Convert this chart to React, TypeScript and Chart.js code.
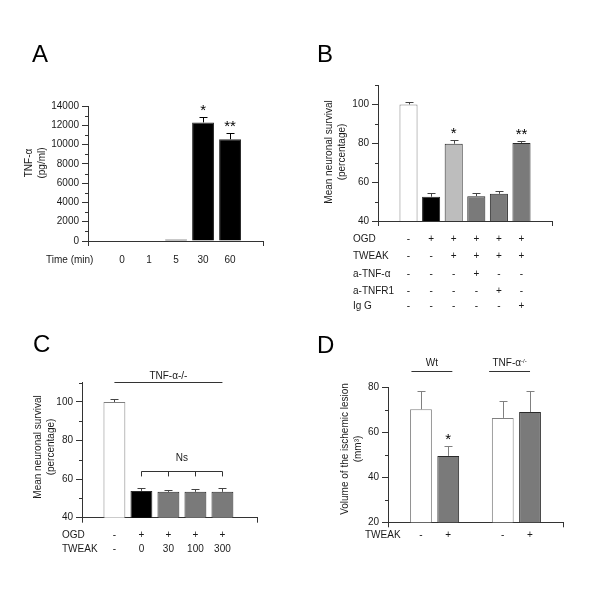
import React, { useEffect, useRef } from 'react';
import { Chart, registerables } from 'chart.js';

Chart.register(...registerables);

const FONT = '"Liberation Sans", Arial, Helvetica, sans-serif';
const AXIS = '#333333';
const TEXT = '#1a1a1a';

// ---------- Panel A: TNF-α release ----------
const timeLabelsA = ['0', '1', '5', '30', '60'];
const tnfA = [0, 0, 150, 12300, 10550];
const tnfErrA = [0, 0, 0, 550, 620];
const starsA = ['', '', '', '*', '**'];
const yMajorA = [0, 2000, 4000, 6000, 8000, 10000, 12000, 14000];
const yMinorA = [1000, 3000, 5000, 7000, 9000, 11000, 13000];
const coloursA = ['#000000', '#000000', '#000000', '#000000', '#000000'];

// ---------- Panel B: neuronal survival ----------
const survivalB = [100, 52.5, 79.8, 52.8, 54, 80.2];
const survivalErrB = [1.2, 1.7, 2.0, 1.5, 1.3, 1.2];
const starsB = ['', '', '*', '', '', '**'];
const ogdB = ['-', '+', '+', '+', '+', '+'];
const tweakB = ['-', '-', '+', '+', '+', '+'];
const antiTnfB = ['-', '-', '-', '+', '-', '-'];
const antiTnfr1B = ['-', '-', '-', '-', '+', '-'];
const iggB = ['-', '-', '-', '-', '-', '+'];
const coloursB = ['#ffffff', '#000000', '#bdbdbd', '#7a7a7a', '#7a7a7a', '#7a7a7a'];
const yMajorSurvival = [40, 60, 80, 100];
const yMinorSurvival = [50, 70, 90, 110];

// ---------- Panel C: TNF-α-/- survival ----------
const survivalC = [100, 53.9, 53.4, 53.4, 53.4];
const survivalErrC = [1.5, 1.7, 1.0, 1.5, 2.0];
const ogdC = ['-', '+', '+', '+', '+'];
const tweakC = ['-', '0', '30', '100', '300'];
const coloursC = ['#ffffff', '#000000', '#7a7a7a', '#7a7a7a', '#7a7a7a'];

// ---------- Panel D: lesion volume ----------
const groupPosD = [0, 1, 3, 4];
const lesionD = [70.2, 49.5, 66.4, 69.0];
const lesionErrD = [8.2, 4.4, 7.5, 9.4];
const starsD = ['', '*', '', ''];
const tweakD = ['-', '+', '-', '+'];
const coloursD = ['#ffffff', '#7a7a7a', '#ffffff', '#7a7a7a'];
const yMajorD = [20, 40, 60, 80];
const yMinorD = [30, 50, 70];
const groupNamesD = ['Wt', 'TNF-α'];
const groupSupD = ['', '-/-'];
const groupSpanD = [[-0.35, 1.15], [2.5, 4.0]];

type Row = { name: string; cells: string[] };
type Spec = {
  box: { left: number; top: number; width: number; height: number };
  plot: { left: number; top: number; right: number; bottom: number };
  letter: { text: string; x: number; y: number };
  xs: number[];
  xMin: number;
  xMax: number;
  barPct: number;
  values: number[];
  errors: number[];
  colours: string[];
  errColour: string;
  stars: string[];
  yMin: number;
  yMax: number;
  yMajor: number[];
  yMinor: number[];
  yTitle: string[];
  yTitleX: number[];
  yTitleY: number;
  rows: Row[];
  rowNameX: number;
  rowYs: number[];
  extra?: (ctx: CanvasRenderingContext2D, chart: any, ox: number, oy: number) => void;
};

function buildConfig(p: Spec) {
  const ox = p.box.left;
  const oy = p.box.top;
  const data = p.xs.map((x, i) => ({ x, y: p.values[i] }));
  const borders = p.colours.map((c) => (c === '#ffffff' ? '#808080' : '#2a2a2a'));

  const decor = {
    id: 'panelDecor',
    afterDraw(chart: any) {
      const ctx: CanvasRenderingContext2D = chart.ctx;
      const ys = chart.scales.y;
      const area = chart.chartArea;
      const meta = chart.getDatasetMeta(0);
      ctx.save();

      // minor y ticks
      ctx.strokeStyle = AXIS;
      ctx.lineWidth = 1;
      p.yMinor.forEach((v) => {
        const y = Math.round(ys.getPixelForValue(v)) + 0.5;
        ctx.beginPath();
        ctx.moveTo(area.left - 3, y);
        ctx.lineTo(area.left, y);
        ctx.stroke();
      });

      // error bars (upper only) and significance stars
      p.values.forEach((v, i) => {
        const el = meta.data[i];
        if (!el) return;
        const x = Math.round(el.x) + 0.5;
        const yBar = ys.getPixelForValue(v);
        const yTop = Math.round(ys.getPixelForValue(v + p.errors[i])) + 0.5;
        if (p.errors[i] > 0) {
          ctx.strokeStyle = p.errColour;
          ctx.beginPath();
          ctx.moveTo(x, yBar);
          ctx.lineTo(x, yTop);
          ctx.moveTo(x - 4, yTop);
          ctx.lineTo(x + 4, yTop);
          ctx.stroke();
        }
        if (p.stars[i]) {
          ctx.fillStyle = '#000';
          ctx.font = `15px ${FONT}`;
          ctx.textAlign = 'center';
          ctx.textBaseline = 'alphabetic';
          ctx.fillText(p.stars[i], el.x, yTop - 3);
        }
      });

      // condition rows under the axis
      ctx.fillStyle = TEXT;
      ctx.font = `10px ${FONT}`;
      ctx.textBaseline = 'middle';
      p.rows.forEach((row, r) => {
        const y = p.rowYs[r] - oy;
        if (row.name) {
          ctx.textAlign = 'left';
          ctx.fillText(row.name, p.rowNameX - ox, y);
        }
        ctx.textAlign = 'center';
        row.cells.forEach((c, i) => {
          const el = meta.data[i];
          if (el) ctx.fillText(c, el.x, y);
        });
      });

      // rotated y title
      ctx.textAlign = 'center';
      p.yTitle.forEach((t, k) => {
        ctx.save();
        ctx.translate(p.yTitleX[k] - ox, p.yTitleY - oy);
        ctx.rotate(-Math.PI / 2);
        ctx.fillText(t, 0, 0);
        ctx.restore();
      });

      // panel letter
      ctx.font = `24px ${FONT}`;
      ctx.textAlign = 'left';
      ctx.textBaseline = 'alphabetic';
      ctx.fillStyle = '#000';
      ctx.fillText(p.letter.text, p.letter.x - ox, p.letter.y - oy);

      if (p.extra) p.extra(ctx, chart, ox, oy);
      ctx.restore();
    },
  };

  const yAxisWidth = p.plot.left - ox;

  return {
    type: 'bar' as const,
    data: {
      datasets: [
        {
          data,
          backgroundColor: p.colours,
          borderColor: borders,
          borderWidth: 1,
          barPercentage: p.barPct,
          categoryPercentage: 1,
        },
      ],
    },
    options: {
      animation: false as const,
      responsive: false,
      events: [],
      layout: {
        padding: {
          left: 0,
          top: p.plot.top - oy,
          right: ox + p.box.width - p.plot.right,
          bottom: oy + p.box.height - p.plot.bottom,
        },
      },
      plugins: {
        legend: { display: false },
        tooltip: { enabled: false },
        title: { display: false },
      },
      scales: {
        x: {
          type: 'linear' as const,
          offset: false,
          min: p.xMin,
          max: p.xMax,
          afterBuildTicks: (s: any) => {
            s.ticks = [{ value: p.xMin }, { value: p.xMax }];
          },
          afterFit: (s: any) => {
            s.height = 0;
          },
          ticks: { display: false },
          grid: { offset: false, drawOnChartArea: false, drawTicks: true, tickLength: 5, color: AXIS },
          border: { display: true, color: AXIS, width: 1 },
        },
        y: {
          type: 'linear' as const,
          min: p.yMin,
          max: p.yMax,
          afterBuildTicks: (s: any) => {
            s.ticks = p.yMajor.map((v) => ({ value: v }));
          },
          afterFit: (s: any) => {
            s.width = yAxisWidth;
          },
          ticks: {
            callback: (v: any) => String(v),
            font: { family: FONT, size: 10 },
            color: TEXT,
            padding: 3,
            autoSkip: false,
          },
          grid: { drawOnChartArea: false, drawTicks: true, tickLength: 6, color: AXIS },
          border: { display: true, color: AXIS, width: 1 },
        },
      },
    },
    plugins: [decor],
  };
}

const specA: Spec = {
  box: { left: 0, top: 0, width: 300, height: 320 },
  plot: { left: 88, top: 106, right: 263, bottom: 241 },
  letter: { text: 'A', x: 32, y: 62 },
  xs: [0, 1, 2, 3, 4],
  xMin: -1.26,
  xMax: 5.22,
  barPct: 0.81,
  values: tnfA,
  errors: tnfErrA,
  colours: coloursA,
  errColour: '#000000',
  stars: starsA,
  yMin: 0,
  yMax: 14000,
  yMajor: yMajorA,
  yMinor: yMinorA,
  yTitle: ['TNF-α', '(pg/ml)'],
  yTitleX: [29, 42],
  yTitleY: 163,
  rows: [{ name: 'Time (min)', cells: timeLabelsA }],
  rowNameX: 46,
  rowYs: [260],
};

const specB: Spec = {
  box: { left: 300, top: 0, width: 300, height: 320 },
  plot: { left: 378, top: 85, right: 552, bottom: 221 },
  letter: { text: 'B', x: 317, y: 62 },
  xs: [0, 1, 2, 3, 4, 5],
  xMin: -1.35,
  xMax: 6.35,
  barPct: 0.8,
  values: survivalB,
  errors: survivalErrB,
  colours: coloursB,
  errColour: '#444444',
  stars: starsB,
  yMin: 40,
  yMax: 110,
  yMajor: yMajorSurvival,
  yMinor: yMinorSurvival,
  yTitle: ['Mean neuronal survival', '(percentage)'],
  yTitleX: [329, 342],
  yTitleY: 152,
  rows: [
    { name: 'OGD', cells: ogdB },
    { name: 'TWEAK', cells: tweakB },
    { name: 'a-TNF-α', cells: antiTnfB },
    { name: 'a-TNFR1', cells: antiTnfr1B },
    { name: 'Ig G', cells: iggB },
  ],
  rowNameX: 353,
  rowYs: [239, 256.5, 274, 291, 306],
};

const specC: Spec = {
  box: { left: 0, top: 320, width: 300, height: 280 },
  plot: { left: 82, top: 382.7, right: 257, bottom: 517.7 },
  letter: { text: 'C', x: 33, y: 352 },
  xs: [0, 1, 2, 3, 4],
  xMin: -1.2,
  xMax: 5.28,
  barPct: 0.81,
  values: survivalC,
  errors: survivalErrC,
  colours: coloursC,
  errColour: '#444444',
  stars: ['', '', '', '', ''],
  yMin: 40,
  yMax: 110,
  yMajor: yMajorSurvival,
  yMinor: yMinorSurvival,
  yTitle: ['Mean neuronal survival', '(percentage)'],
  yTitleX: [38, 51],
  yTitleY: 447,
  rows: [
    { name: 'OGD', cells: ogdC },
    { name: 'TWEAK', cells: tweakC },
  ],
  rowNameX: 62,
  rowYs: [535, 549],
  extra: (ctx, chart) => {
    const xs = chart.scales.x;
    const ys = chart.scales.y;
    ctx.strokeStyle = AXIS;
    ctx.lineWidth = 1;
    ctx.fillStyle = TEXT;
    ctx.font = `10px ${FONT}`;
    ctx.textAlign = 'center';
    ctx.textBaseline = 'middle';
    // genotype line
    const gy = Math.round(ys.getPixelForValue(110.2)) + 0.5;
    const gx0 = xs.getPixelForValue(0);
    const gx1 = xs.getPixelForValue(4);
    ctx.beginPath();
    ctx.moveTo(gx0, gy);
    ctx.lineTo(gx1, gy);
    ctx.stroke();
    ctx.fillText('TNF-α-/-', (gx0 + gx1) / 2, gy - 6);
    // Ns bracket
    const by = Math.round(ys.getPixelForValue(64.4)) + 0.5;
    const bd = ys.getPixelForValue(61.4);
    const bx0 = xs.getPixelForValue(1);
    const bx1 = xs.getPixelForValue(4);
    ctx.beginPath();
    ctx.moveTo(bx0, by);
    ctx.lineTo(bx1, by);
    [1, 2, 3, 4].forEach((k) => {
      const x = Math.round(xs.getPixelForValue(k)) + 0.5;
      ctx.moveTo(x, by);
      ctx.lineTo(x, bd);
    });
    ctx.stroke();
    ctx.fillText('Ns', (bx0 + bx1) / 2, ys.getPixelForValue(71));
  },
};

const specD: Spec = {
  box: { left: 300, top: 320, width: 300, height: 280 },
  plot: { left: 388, top: 387.3, right: 563, bottom: 522.3 },
  letter: { text: 'D', x: 317, y: 353 },
  xs: groupPosD,
  xMin: -1.21,
  xMax: 5.21,
  barPct: 0.8,
  values: lesionD,
  errors: lesionErrD,
  colours: coloursD,
  errColour: '#808080',
  stars: starsD,
  yMin: 20,
  yMax: 80,
  yMajor: yMajorD,
  yMinor: yMinorD,
  yTitle: ['Volume of the ischemic lesion', '(mm³)'],
  yTitleX: [345, 358],
  yTitleY: 449,
  rows: [{ name: 'TWEAK', cells: tweakD }],
  rowNameX: 365,
  rowYs: [535],
  extra: (ctx, chart) => {
    const xs = chart.scales.x;
    const ys = chart.scales.y;
    ctx.strokeStyle = AXIS;
    ctx.lineWidth = 1;
    ctx.fillStyle = TEXT;
    const ly = Math.round(ys.getPixelForValue(87.2)) + 0.5;
    groupNamesD.forEach((name, g) => {
      const x0 = xs.getPixelForValue(groupSpanD[g][0]);
      const x1 = xs.getPixelForValue(groupSpanD[g][1]);
      ctx.beginPath();
      ctx.moveTo(x0, ly);
      ctx.lineTo(x1, ly);
      ctx.stroke();
      const cx = (x0 + x1) / 2;
      ctx.textBaseline = 'middle';
      ctx.font = `10px ${FONT}`;
      const w = ctx.measureText(name).width;
      ctx.font = `6px ${FONT}`;
      const ws = groupSupD[g] ? ctx.measureText(groupSupD[g]).width : 0;
      const start = cx - (w + ws) / 2;
      ctx.textAlign = 'left';
      ctx.font = `10px ${FONT}`;
      ctx.fillText(name, start, ly - 8);
      if (groupSupD[g]) {
        ctx.font = `6px ${FONT}`;
        ctx.fillText(groupSupD[g], start + w, ly - 10);
      }
    });
  },
};

function Panel({ spec }: { spec: Spec }) {
  const ref = useRef<HTMLCanvasElement | null>(null);
  useEffect(() => {
    if (!ref.current) return;
    const chart = new Chart(ref.current, buildConfig(spec) as any);
    return () => chart.destroy();
  }, [spec]);
  return (
    <canvas
      ref={ref}
      width={spec.box.width}
      height={spec.box.height}
      style={{
        position: 'absolute',
        left: spec.box.left,
        top: spec.box.top,
        width: spec.box.width,
        height: spec.box.height,
      }}
    />
  );
}

export default function App() {
  return (
    <div
      style={{
        position: 'absolute',
        left: 0,
        top: 0,
        width: 600,
        height: 600,
        background: '#ffffff',
        overflow: 'hidden',
      }}
    >
      <Panel spec={specA} />
      <Panel spec={specB} />
      <Panel spec={specC} />
      <Panel spec={specD} />
    </div>
  );
}
